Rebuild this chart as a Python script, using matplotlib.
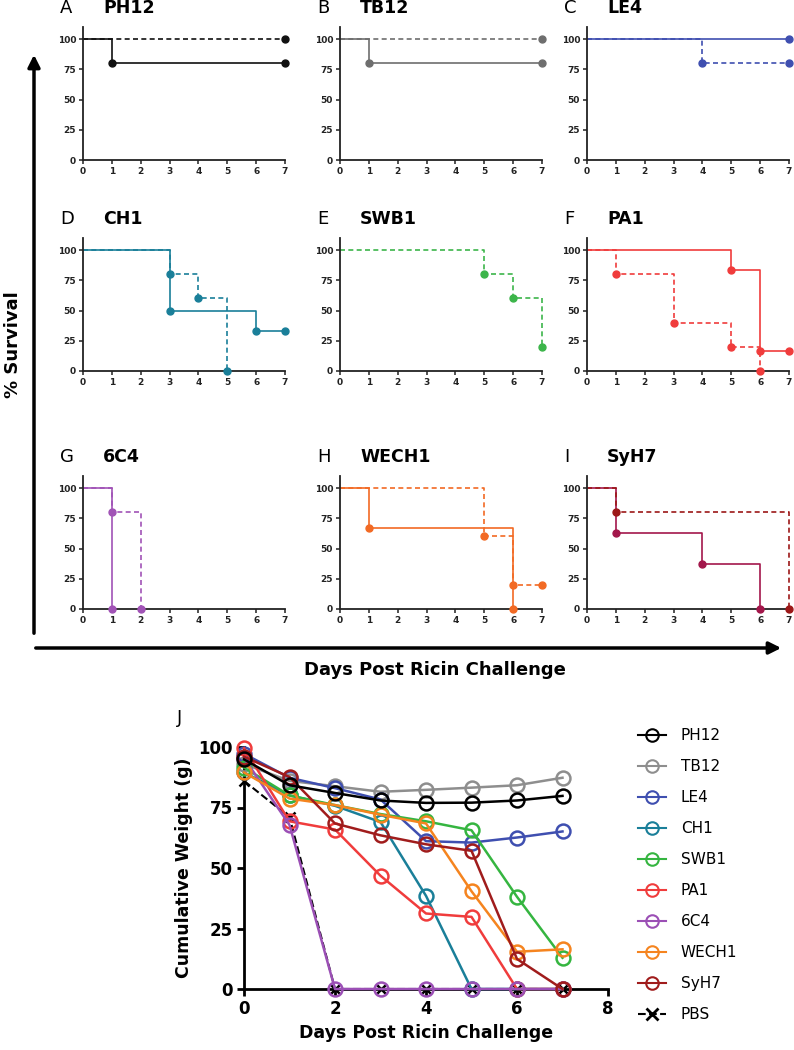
"""
Survival curves (A-I) and cumulative weight (J) after ricin challenge.
"""

import matplotlib.pyplot as plt
from matplotlib.patches import FancyArrowPatch
from matplotlib.lines import Line2D

# --- survival data: (days, % survival) per strain, solid and dashed groups ---
strains = ['PH12', 'TB12', 'LE4', 'CH1', 'SWB1', 'PA1', '6C4', 'WECH1', 'SyH7']
letters = ['A', 'B', 'C', 'D', 'E', 'F', 'G', 'H', 'I']

solid_days = [[0, 1, 7], [0, 1, 7], [0, 7], [0, 3, 6, 7], None,
              [0, 5, 6, 7], [0, 1], [0, 1, 6], [0, 1, 4, 6]]
solid_surv = [[100, 80, 80], [100, 80, 80], [100, 100], [100, 50, 33.3, 33.3], None,
              [100, 83.3, 16.7, 16.7], [100, 0], [100, 66.7, 0], [100, 62.5, 37.5, 0]]
dash_days = [[0, 7], [0, 7], [0, 4, 7], [0, 3, 4, 5], [0, 5, 6, 7],
             [0, 1, 3, 5, 6], [0, 1, 2], [0, 5, 6, 7], [0, 1, 7]]
dash_surv = [[100, 100], [100, 100], [100, 80, 80], [100, 80, 60, 0], [100, 80, 60, 20],
             [100, 80, 40, 20, 0], [100, 80, 0], [100, 60, 20, 20], [100, 80, 0]]

solid_colors = ['#111111', '#6e6e6e', '#3f4fb0', '#1a7f99', '#3cb54a',
                '#f03c3c', '#a153b6', '#f26a24', '#a3174b']
dash_colors = ['#111111', '#6e6e6e', '#3f4fb0', '#1a7f99', '#3cb54a',
               '#f03c3c', '#a153b6', '#f26a24', '#9c1818']

# --- cumulative weight (g) per day, panel J ---
days = [0, 1, 2, 3, 4, 5, 6, 7]
weight_PH12 = [94.9, 84.2, 81.0, 77.9, 76.9, 77.0, 77.9, 79.8]
weight_TB12 = [93.0, 86.0, 83.8, 81.5, 82.3, 83.2, 84.2, 87.3]
weight_LE4 = [97.2, 87.3, 83.0, 78.3, 61.1, 60.5, 62.6, 65.1]
weight_CH1 = [89.5, 80.0, 75.7, 69.0, 38.5, 0, 0, 0]
weight_SWB1 = [91.5, 80.0, 76.0, 72.3, 69.3, 65.6, 38.1, 12.9]
weight_PA1 = [99.5, 69.3, 65.9, 46.8, 31.2, 29.8, 0, 0]
weight_6C4 = [95.5, 67.8, 0, 0, 0, 0, 0, 0]
weight_WECH1 = [89.5, 78.7, 76.0, 72.0, 68.4, 40.4, 15.4, 16.4]
weight_SyH7 = [96.0, 87.6, 68.4, 63.5, 59.8, 57.1, 12.4, 0]
weight_PBS = [86.0, 71.0, 0, 0, 0, 0, 0, 0]

weight_series = [weight_PH12, weight_TB12, weight_LE4, weight_CH1, weight_SWB1,
                 weight_PA1, weight_6C4, weight_WECH1, weight_SyH7]
weight_colors = ['#000000', '#8e8e8e', '#3f4fb0', '#1a7f99', '#35b540',
                 '#f03c3c', '#9b4fb5', '#f5841f', '#a01c1c']

W, H = 794, 1050
fig = plt.figure(figsize=(W / 100, H / 100), dpi=100)


def fx(px):
    return px / W


def fy(py):
    return 1 - py / H


# survival panel grid (pixel positions)
col_left = [83, 340, 587]
row_zero = [160, 371, 609]
panel_w = 202
panel_h = 133

for i, name in enumerate(strains):
    r, c = divmod(i, 3)
    left = col_left[c]
    bottom = row_zero[r]
    ax = fig.add_axes([fx(left), fy(bottom), fx(panel_w), panel_h / H])
    ax.set_xlim(0, 7)
    ax.set_ylim(0, 110)
    if solid_days[i] is not None:
        ax.plot(solid_days[i], solid_surv[i], drawstyle='steps-post',
                color=solid_colors[i], lw=1.2, clip_on=False)
        ax.plot(solid_days[i][1:], solid_surv[i][1:], 'o', color=solid_colors[i],
                ms=5, clip_on=False, zorder=5)
    ax.plot(dash_days[i], dash_surv[i], drawstyle='steps-post', ls=(0, (3, 2)),
            color=dash_colors[i], lw=1.2, clip_on=False)
    ax.plot(dash_days[i][1:], dash_surv[i][1:], 'o', color=dash_colors[i],
            ms=5, clip_on=False, zorder=5)

    ax.set_xticks(range(8))
    ax.set_yticks([0, 25, 50, 75, 100])
    for s in ['top', 'right']:
        ax.spines[s].set_visible(False)
    for s in ['left', 'bottom']:
        ax.spines[s].set_linewidth(1.3)
        ax.spines[s].set_color('#222222')
    ax.tick_params(length=3, width=1.1, labelsize=6.5, pad=2, colors='#222222')
    for lab in ax.get_xticklabels() + ax.get_yticklabels():
        lab.set_fontweight('bold')

    top = bottom - panel_h
    fig.text(fx(left - 23), fy(top - 19), letters[i], fontsize=13, va='center', ha='left')
    fig.text(fx(left + 20), fy(top - 19), name, fontsize=12.5, fontweight='bold',
             va='center', ha='left')

# big axis arrows for survival grid
fig.add_artist(FancyArrowPatch((fx(34), fy(636)), (fx(34), fy(52)),
                               transform=fig.transFigure, arrowstyle='-|>',
                               mutation_scale=18, lw=2.5, color='black'))
fig.add_artist(FancyArrowPatch((fx(33), fy(648)), (fx(784), fy(648)),
                               transform=fig.transFigure, arrowstyle='-|>',
                               mutation_scale=18, lw=2.5, color='black'))
fig.text(fx(13), fy(345), '% Survival', rotation=90, fontsize=13, fontweight='bold',
         ha='center', va='center')
fig.text(fx(435), fy(670), 'Days Post Ricin Challenge', fontsize=13, fontweight='bold',
         ha='center', va='center')

# --- panel J ---
axj = fig.add_axes([fx(244), fy(989), fx(364), 242 / H])
for k, (vals, col) in enumerate(zip(weight_series, weight_colors)):
    axj.plot(days, vals, '-o', color=col, lw=1.8, ms=10, mfc='none', mew=1.8,
             clip_on=False, label=strains[k], zorder=3 if k else 4)
axj.plot(days, weight_PBS, '--x', color='black', lw=1.5, ms=7, mew=1.8,
         clip_on=False, label='PBS', zorder=2)
axj.set_xlim(0, 8)
axj.set_ylim(0, 100)
axj.set_xticks([0, 2, 4, 6, 8])
axj.set_yticks([0, 25, 50, 75, 100])
for s in ['top', 'right']:
    axj.spines[s].set_visible(False)
for s in ['left', 'bottom']:
    axj.spines[s].set_linewidth(2)
axj.tick_params(length=5, width=2, labelsize=12, pad=3)
for lab in axj.get_xticklabels() + axj.get_yticklabels():
    lab.set_fontweight('bold')
axj.set_xlabel('Days Post Ricin Challenge', fontsize=12.5, fontweight='bold', labelpad=4)
axj.set_ylabel('Cumulative Weight (g)', fontsize=12.5, fontweight='bold', labelpad=4)
fig.text(fx(177), fy(718), 'J', fontsize=13, va='center', ha='left')

handles = [Line2D([], [], color=c, marker='o', mfc='none', ms=9, mew=1.5, lw=1.5)
           for c in weight_colors]
handles.append(Line2D([], [], color='black', marker='x', ls='--', ms=8, mew=2, lw=1.5))
fig.legend(handles, strains + ['PBS'], loc='upper left',
           bbox_to_anchor=(fx(632), fy(722)), frameon=False, fontsize=11,
           handlelength=1.8, handletextpad=1.0, labelspacing=1.05, borderaxespad=0)

fig.savefig('out.png', dpi=100)
